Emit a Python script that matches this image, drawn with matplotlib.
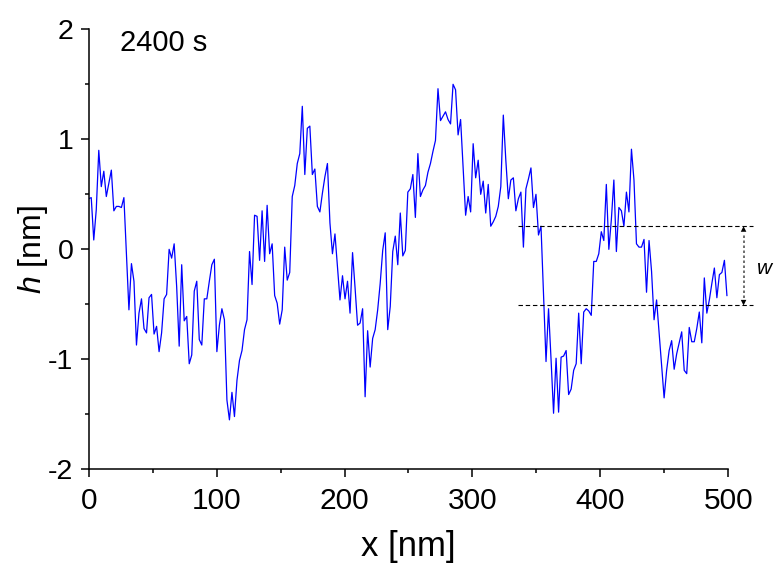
import numpy as np
import matplotlib
matplotlib.use("Agg")
import matplotlib.pyplot as plt

plt.rcParams['font.family'] = ['Liberation Sans', 'DejaVu Sans']
plt.rcParams['axes.unicode_minus'] = False
plt.rcParams['mathtext.fontset'] = 'custom'
plt.rcParams['mathtext.it'] = 'Liberation Sans:italic'
plt.rcParams['mathtext.rm'] = 'Liberation Sans'

# height profile h [nm] sampled uniformly along x (0 .. ~499 nm)
h = [0.46, 0.47, 0.085, 0.36, 0.90, 0.57, 0.71, 0.48, 0.60, 0.72, 0.35, 0.39, 0.39, 0.38, 0.47, -0.04,
     -0.55, -0.13, -0.29, -0.87, -0.58, -0.45, -0.72, -0.76, -0.44, -0.41, -0.77, -0.70, -0.93, -0.76,
     -0.45, -0.41, 0.0,
     -0.08, 0.05, -0.34, -0.88, -0.14, -0.65, -0.61, -1.04, -0.96, -0.38, -0.29, -0.82, -0.87, -0.45,
     -0.45, -0.29, -0.14, -0.09, -0.93, -0.69, -0.54, -0.64, -1.37, -1.55, -1.30, -1.52, -1.19, -1.01,
     -0.92, -0.73, -0.64, -0.02,
     -0.32, 0.31, 0.30, -0.10, 0.35, -0.11, 0.40, -0.04, 0.05, -0.42, -0.49, -0.68, -0.55, 0.02, -0.28,
     -0.21, 0.48, 0.58, 0.78, 0.87, 1.30, 0.68, 1.10, 1.12, 0.68, 0.73, 0.39, 0.34, 0.51, 0.66, 0.78, 0.24,
     -0.04, 0.14, -0.16, -0.46, -0.24, -0.45, -0.29, -0.58, -0.03, -0.35, -0.69, -0.67, -0.54, -1.34,
     -0.74, -1.07, -0.81, -0.73, -0.55, -0.31, -0.01, 0.15, -0.73, -0.52, -0.02, 0.12, -0.14, 0.33,
     -0.06, -0.01, 0.52, 0.55,
     0.68, 0.29, 0.87, 0.48, 0.54, 0.58, 0.70, 0.78, 0.89, 0.99, 1.46, 1.17, 1.21, 1.25, 1.18, 1.14,
     1.50, 1.45, 1.04, 1.18, 0.74, 0.31, 0.48, 0.34, 0.96, 0.65, 0.81, 0.50, 0.62, 0.33, 0.59, 0.21,
     0.25, 0.30, 0.39, 0.57, 1.22, 0.81, 0.46, 0.63, 0.65, 0.35, 0.46, 0.52, 0.02, 0.55, 0.64, 0.74,
     0.38, 0.50, 0.13, 0.21, -0.40, -1.02, -0.54, -1.00, -1.49, -0.99, -1.48, -0.98, -0.97, -0.92,
     -1.32, -1.27,
     -1.10, -1.04, -0.58, -1.04, -0.57, -0.54, -0.56, -0.60, -0.11, -0.11, -0.04, 0.16, 0.08, 0.59, 0.0,
     0.27, 0.63, -0.02, 0.38, 0.35, 0.21, 0.52, 0.34, 0.91, 0.63, 0.05, 0.02, 0.02, 0.09, -0.39, 0.08,
     -0.20,
     -0.64, -0.46, -0.76, -1.07, -1.35, -1.10, -0.92, -0.83, -1.09, -0.95, -0.85, -0.75, -1.10, -1.13,
     -0.71, -0.84, -0.84, -0.72, -0.57, -0.85, -0.26, -0.58, -0.46, -0.31, -0.17, -0.44, -0.23, -0.21,
     -0.10, -0.42]
x_end = 499.0
x = np.linspace(0, x_end, len(h))

w_top = 0.21
w_bottom = -0.51
w_x_start = 336
w_x_end = 519
w_arrow_x = 512
label_time = "2400 s"

fig = plt.figure(figsize=(7.79, 5.71), dpi=100)
ax = fig.add_axes([0.1139, 0.178, 0.8209, 0.7707])

ax.plot(x, h, color='#0000ff', lw=0.9)

ax.set_xlim(0, 500)
ax.set_ylim(-2, 2)
ax.set_xticks([0, 100, 200, 300, 400, 500])
ax.set_xticks(np.arange(50, 500, 100), minor=True)
ax.set_yticks([-2, -1, 0, 1, 2])
ax.set_yticks([-1.5, -0.5, 0.5, 1.5], minor=True)
ax.set_yticklabels(['-2', '-1', '0', '1', '2'])

for s in ['top', 'right']:
    ax.spines[s].set_visible(False)
for s in ['left', 'bottom']:
    ax.spines[s].set_linewidth(1.1)
ax.tick_params(which='major', length=6, width=1.1, direction='out')
ax.tick_params(which='minor', length=3, width=1.1, direction='out')
ax.tick_params(axis='x', which='major', labelsize=21.5, pad=7)
ax.tick_params(axis='y', which='major', labelsize=20.5, pad=5)

ax.set_xlabel('x [nm]', fontsize=25)
ax.set_ylabel('$h$ [nm]', fontsize=23)
ax.xaxis.set_label_coords(0.5, -0.138)
ax.yaxis.set_label_coords(-0.0605, 0.5)

ax.text(0.049, 0.9514, label_time, transform=ax.transAxes, fontsize=21, va='baseline', ha='left')

# w annotation
for yv in (w_top, w_bottom):
    ax.plot([w_x_start, w_x_end], [yv, yv], ls=(0, (4, 2.5)), color='black', lw=0.8, clip_on=False)
ax.annotate('', xy=(w_arrow_x, w_top), xytext=(w_arrow_x, w_bottom),
            arrowprops=dict(arrowstyle='<|-|>', color='black', lw=0.0, mutation_scale=10,
                            shrinkA=0, shrinkB=0), annotation_clip=False)
ax.plot([w_arrow_x, w_arrow_x], [w_bottom + 0.07, w_top - 0.07], ls=(0, (1.5, 1.5)),
        color='#555555', lw=1.2, clip_on=False)
ax.text(529, -0.17, '$w$', fontsize=15, ha='center', va='center', clip_on=False)

fig.savefig('out.png', dpi=100)
